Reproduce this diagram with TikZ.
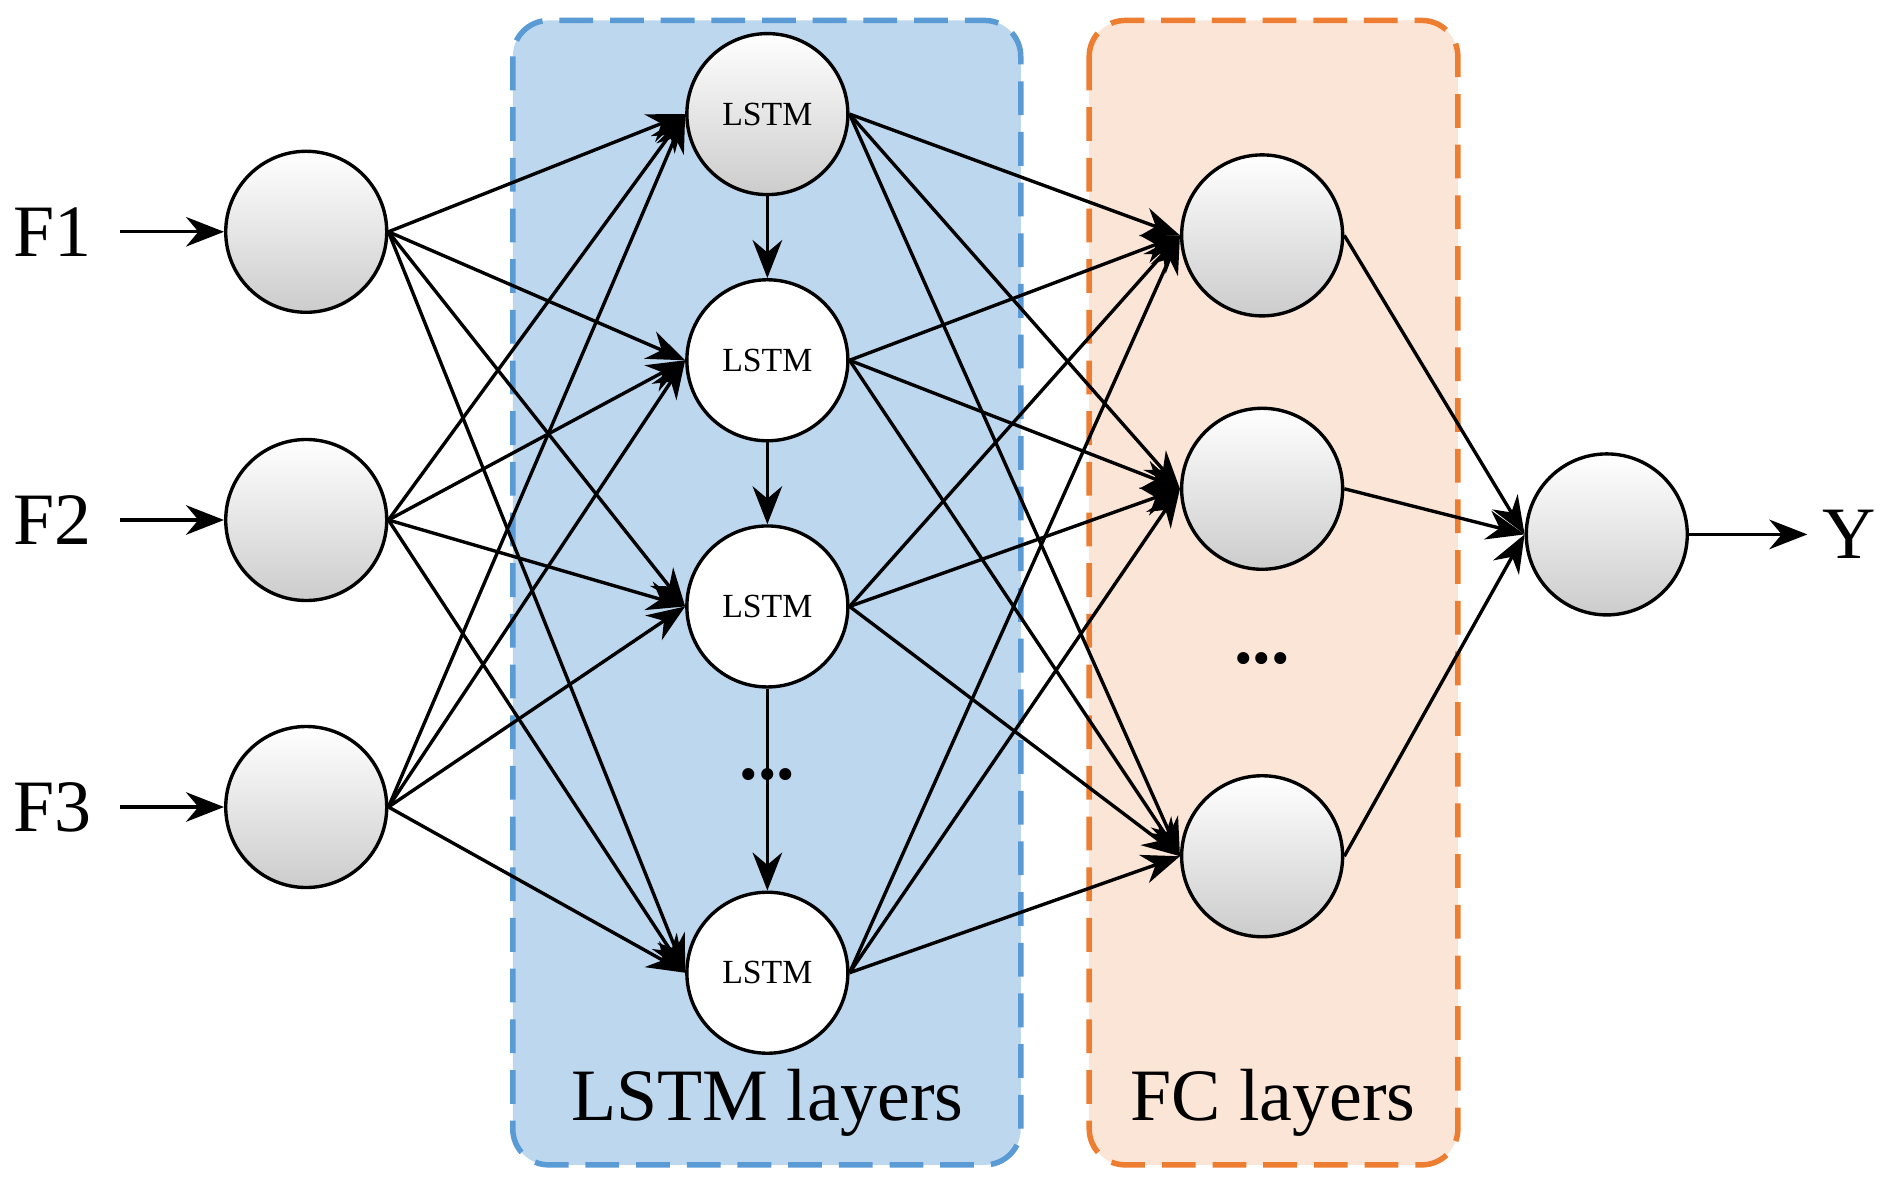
\documentclass[tikz,border=0pt]{standalone}
\usepackage{fontspec}
\setmainfont{Liberation Serif}
\usetikzlibrary{arrows.meta}
\begin{document}
\begin{tikzpicture}[x=0.01cm,y=-0.01cm,
  neuron/.style={circle,draw,line width=0.8pt,minimum size=1.34cm,inner sep=0pt,top color=white,bottom color=gray!40},
  lstm/.style={circle,draw,line width=0.8pt,minimum size=1.34cm,inner sep=0pt,fill=white,font=\fontsize{8}{10}\selectfont},
  con/.style={line width=0.8pt,-{Stealth[length=9pt,width=7pt]}},
  big/.style={font=\fontsize{17.5}{22}\selectfont}]
\useasboundingbox (0,0) rectangle (1568,990);
\draw[rounded corners=0.3cm,fill={rgb,255:red,189;green,215;blue,238},draw={rgb,255:red,91;green,155;blue,213},line width=1.3pt,dash pattern=on 8pt off 4pt] (427,17) rectangle (850,970);
\draw[rounded corners=0.3cm,fill={rgb,255:red,251;green,229;blue,214},draw={rgb,255:red,237;green,125;blue,49},line width=1.3pt,dash pattern=on 8pt off 4pt] (907,17) rectangle (1214,970);
\foreach \i/\y in {1/193,2/433,3/672}{
  \node[neuron] (i\i) at (255,\y) {};
  \node[big] (f\i) at (44,\y) {F\i};
  \coordinate (s\i) at (100,\y);
  \draw[con] (s\i) -- (i\i);
}
\node[lstm,top color=white,bottom color=gray!40] (l1) at (639,95) {LSTM};
\node[lstm] (l2) at (639,300) {LSTM};
\node[lstm] (l3) at (639,505) {LSTM};
\node[lstm] (l4) at (639,810) {LSTM};
\node[big] (d1) at (639,645) {\textbf{...}};
\node[neuron] (c1) at (1051,196) {};
\node[neuron] (c2) at (1051,407) {};
\node[neuron] (c3) at (1051,713) {};
\node[big] (d2) at (1051,548) {\textbf{...}};
\node[neuron] (o) at (1338,445) {};
\node[big] (y) at (1540,445) {Y};
\coordinate (ye) at (1505,445);
\draw[con] (o) -- (ye);
\foreach \i in {1,2,3}{\foreach \j in {1,2,3,4}{\draw[con] (i\i.east) -- (l\j.west);}}
\foreach \i in {1,2,3,4}{\foreach \j in {1,2,3}{\draw[con] (l\i.east) -- (c\j.west);}}
\foreach \j in {1,2,3}{\draw[con] (c\j.east) -- (o.west);}
\draw[con] (l1) -- (l2);
\draw[con] (l2) -- (l3);
\draw[con] (l3) -- (l4);
\node[big] (t1) at (639,918) {LSTM layers};
\node[big] (t2) at (1060,918) {FC layers};
\end{tikzpicture}
\end{document}
